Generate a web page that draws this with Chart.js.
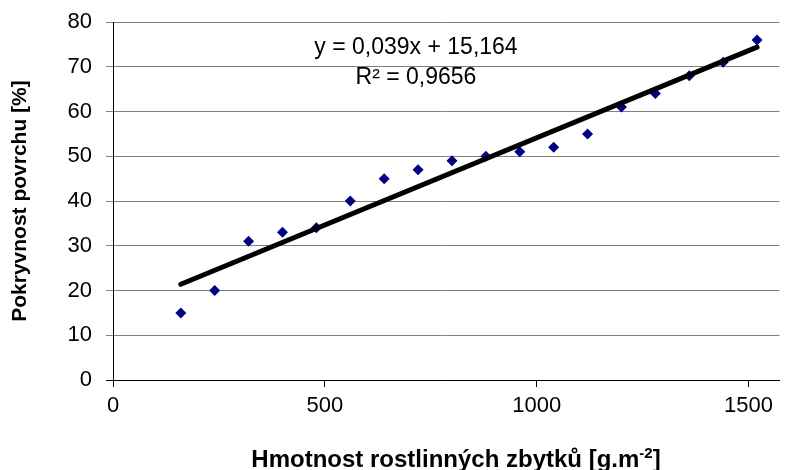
<!DOCTYPE html>
<html lang="cs">
<head>
    <meta charset="UTF-8">
    <title>Pokryvnost povrchu</title>
    <script src="https://cdn.jsdelivr.net/npm/chart.js"></script>
    <style>
        body {
            margin: 0;
            padding: 0;
            background-color: #ffffff;
        }

        .wrap {
            width: 785px;
            height: 470px;
        }
    </style>
</head>
<body>
    <div class="wrap">
        <canvas id="coverChart" width="785" height="470"></canvas>
    </div>
    <script>
        // hmotnost rostlinnych zbytku [g.m-2]
        const massValues = [160, 240, 320, 400, 480, 560, 640, 720, 800, 880, 960, 1040, 1120, 1200, 1280, 1360, 1440, 1520];
        // pokryvnost povrchu [%]
        const coverValues = [15, 20, 31, 33, 34, 40, 45, 47, 49, 50, 51, 52, 55, 61, 64, 68, 71, 76];
        const xTickValues = [0, 500, 1000, 1500];
        const yTickStep = 10;
        const equationLines = ['y = 0,039x + 15,164', 'R² = 0,9656'];

        const FONT = "'Liberation Sans', Arial, sans-serif";

        // linear trend (least squares) from the data itself
        function linearFit(xs, ys) {
            const n = xs.length;
            const mx = xs.reduce((a, b) => a + b, 0) / n;
            const my = ys.reduce((a, b) => a + b, 0) / n;
            let sxy = 0, sxx = 0;
            for (let i = 0; i < n; i++) {
                sxy += (xs[i] - mx) * (ys[i] - my);
                sxx += (xs[i] - mx) * (xs[i] - mx);
            }
            const slope = sxy / sxx;
            return { slope: slope, intercept: my - slope * mx };
        }

        const fit = linearFit(massValues, coverValues);
        const xMin = Math.min(...massValues);
        const xMax = Math.max(...massValues);
        const trendPoints = [
            { x: xMin, y: fit.intercept + fit.slope * xMin },
            { x: xMax, y: fit.intercept + fit.slope * xMax }
        ];

        const textPlugin = {
            id: 'textPlugin',
            afterDraw(chart) {
                const ctx = chart.ctx;
                const area = chart.chartArea;
                ctx.save();
                ctx.fillStyle = '#000';

                // trendline equation
                ctx.font = '23px ' + FONT;
                ctx.textAlign = 'center';
                ctx.textBaseline = 'middle';
                ctx.fillText(equationLines[0], 416, 48);
                ctx.fillText(equationLines[1], 416, 78);

                // x axis title with superscript
                const main = 'Hmotnost rostlinných zbytků [g.m';
                const sup = '-2';
                const tail = ']';
                ctx.textAlign = 'left';
                ctx.textBaseline = 'alphabetic';
                ctx.font = 'bold 24px ' + FONT;
                const wMain = ctx.measureText(main).width;
                const wTail = ctx.measureText(tail).width;
                ctx.font = 'bold 15px ' + FONT;
                const wSup = ctx.measureText(sup).width;
                const total = wMain + wSup + wTail;
                let x = 456 - total / 2;
                const base = 467;
                ctx.font = 'bold 24px ' + FONT;
                ctx.fillText(main, x, base);
                x += wMain;
                ctx.font = 'bold 15px ' + FONT;
                ctx.fillText(sup, x, base - 9);
                x += wSup;
                ctx.font = 'bold 24px ' + FONT;
                ctx.fillText(tail, x, base);
                ctx.restore();
            }
        };

        const ctx = document.getElementById('coverChart').getContext('2d');
        const chart = new Chart(ctx, {
            type: 'scatter',
            data: {
                datasets: [{
                    label: 'Trend',
                    type: 'line',
                    data: trendPoints,
                    borderColor: '#000000',
                    borderWidth: 5,
                    borderCapStyle: 'round',
                    pointRadius: 0,
                    fill: false,
                    order: 0
                }, {
                    label: 'Pokryvnost',
                    data: massValues.map((m, i) => ({ x: m, y: coverValues[i] })),
                    backgroundColor: '#000080',
                    borderWidth: 0,
                    pointStyle: 'rectRot',
                    pointRadius: 5.5,
                    order: 1
                }]
            },
            options: {
                responsive: false,
                animation: false,
                layout: {
                    padding: { left: 0, right: 1, top: 22, bottom: 0 }
                },
                plugins: {
                    legend: { display: false },
                    tooltip: { enabled: false }
                },
                scales: {
                    x: {
                        type: 'linear',
                        min: 0,
                        max: 1573,
                        afterBuildTicks: (s) => {
                            s.ticks = xTickValues.map(v => ({ value: v }));
                        },
                        afterFit: (s) => {
                            s.height = 90;
                            s.paddingLeft = 0;
                            s.paddingRight = 0;
                        },
                        grid: {
                            drawOnChartArea: false,
                            color: '#000',
                            tickLength: 7
                        },
                        border: { color: '#000', width: 1 },
                        ticks: {
                            color: '#000',
                            padding: 6,
                            maxRotation: 0,
                            callback: (v) => String(v),
                            font: { family: FONT, size: 22 }
                        }
                    },
                    y: {
                        min: 0,
                        max: 80,
                        afterFit: (s) => {
                            s.width = 113;
                            s.paddingTop = 0;
                            s.paddingBottom = 0;
                        },
                        grid: {
                            color: (c) => c.tick && c.tick.value === 0 ? '#000' : '#808080',
                            tickColor: (c) => c.tick && c.tick.value === 0 ? '#000' : '#808080',
                            tickLength: 7
                        },
                        border: { color: '#000', width: 1 },
                        ticks: {
                            stepSize: yTickStep,
                            color: '#000',
                            padding: 14,
                            font: { family: FONT, size: 22 }
                        },
                        title: {
                            display: true,
                            text: 'Pokryvnost povrchu [%]',
                            color: '#000',
                            padding: { top: 8, bottom: 0 },
                            font: { family: FONT, size: 21, weight: 'bold' }
                        }
                    }
                }
            },
            plugins: [textPlugin]
        });
    </script>
</body>
</html>
